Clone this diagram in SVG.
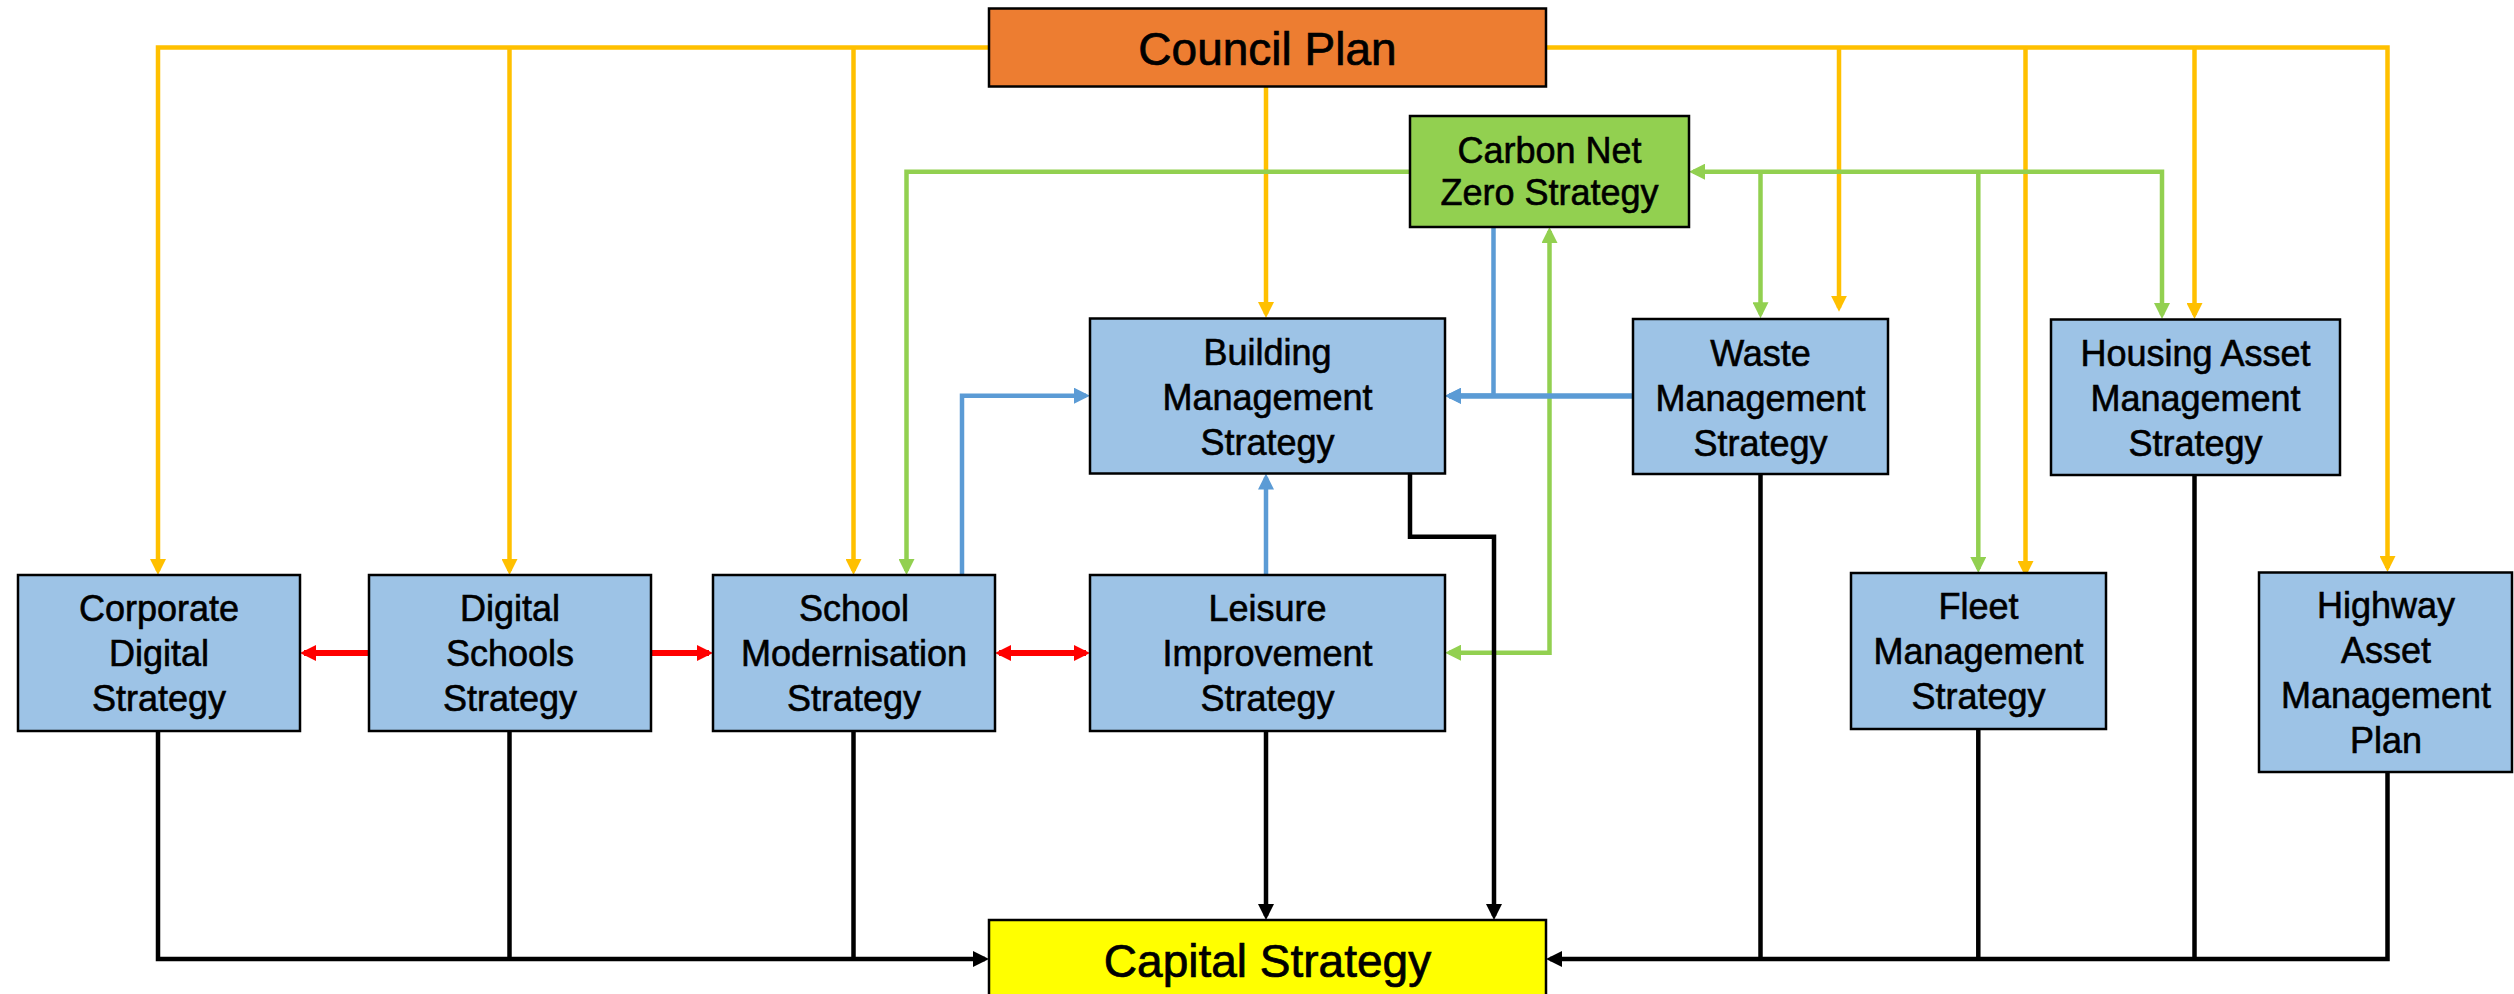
<svg xmlns="http://www.w3.org/2000/svg" width="2514" height="994" viewBox="0 0 2514 994">
<style>
.box{stroke:#000;stroke-width:2.5}
.blue{fill:#9DC3E6}
.t{font-family:"Liberation Sans",Arial,sans-serif;font-size:36px;fill:#000;stroke:#000;stroke-width:0.6;text-anchor:middle}
.tb{font-family:"Liberation Sans",Arial,sans-serif;font-size:46px;fill:#000;stroke:#000;stroke-width:0.7;text-anchor:middle}
.c{fill:none;stroke-width:4.5;stroke-linejoin:miter}
.y{stroke:#FFC000}
.g{stroke:#92D050}
.b{stroke:#5B9BD5}
.k{stroke:#000}
.r{stroke:#FF0000;stroke-width:6}
</style>
<defs>
<marker id="ay" markerUnits="userSpaceOnUse" markerWidth="16" markerHeight="16" refX="12" refY="8" orient="auto-start-reverse"><path d="M0,0 L16,8 L0,16 z" fill="#FFC000"/></marker>
<marker id="ag" markerUnits="userSpaceOnUse" markerWidth="16" markerHeight="16" refX="12" refY="8" orient="auto-start-reverse"><path d="M0,0 L16,8 L0,16 z" fill="#92D050"/></marker>
<marker id="ab" markerUnits="userSpaceOnUse" markerWidth="16" markerHeight="16" refX="12" refY="8" orient="auto-start-reverse"><path d="M0,0 L16,8 L0,16 z" fill="#5B9BD5"/></marker>
<marker id="ak" markerUnits="userSpaceOnUse" markerWidth="16" markerHeight="16" refX="12" refY="8" orient="auto-start-reverse"><path d="M0,0 L16,8 L0,16 z" fill="#000"/></marker>
<marker id="ar" markerUnits="userSpaceOnUse" markerWidth="16" markerHeight="16" refX="12" refY="8" orient="auto-start-reverse"><path d="M0,0 L16,8 L0,16 z" fill="#FF0000"/></marker>
</defs>

<g id="connectors">
  <!-- yellow: Council Plan -->
  <path class="c y" d="M989 47.5 H158 V571" marker-end="url(#ay)"/>
  <path class="c y" d="M509.5 47.5 V571" marker-end="url(#ay)"/>
  <path class="c y" d="M853.5 47.5 V571" marker-end="url(#ay)"/>
  <path class="c y" d="M1546 47.5 H2387.5 V568" marker-end="url(#ay)"/>
  <path class="c y" d="M1839 47.5 V307.7" marker-end="url(#ay)"/>
  <path class="c y" d="M2025.5 47.5 V573" marker-end="url(#ay)"/>
  <path class="c y" d="M2194.5 47.5 V315" marker-end="url(#ay)"/>
  <path class="c y" d="M1266 87 V314" marker-end="url(#ay)"/>
  <!-- green: Carbon Net Zero -->
  <path class="c g" d="M1410 171.7 H906.5 V571" marker-end="url(#ag)"/>
  <path class="c g" d="M1693 171.7 H2162 V315" marker-start="url(#ag)" marker-end="url(#ag)"/>
  <path class="c g" d="M1760.5 171.7 V314.3" marker-end="url(#ag)"/>
  <path class="c g" d="M1978.3 171.7 V569" marker-end="url(#ag)"/>
  <path class="c g" d="M1449 652.7 H1549.5 V231" marker-start="url(#ag)" marker-end="url(#ag)"/>
  <!-- blue -->
  <path class="c b" d="M962 575 V395.7 H1086" marker-end="url(#ab)"/>
  <path class="c b" d="M1493.5 227 V395.7 H1449" marker-end="url(#ab)"/>
  <path class="c b" style="stroke-width:5.5" d="M1633 396 H1449" marker-end="url(#ab)"/>
  <path class="c b" d="M1266 575 V477.5" marker-end="url(#ab)"/>
  <!-- black: to Capital Strategy -->
  <path class="c k" d="M158 731 V959 H985" marker-end="url(#ak)"/>
  <path class="c k" d="M509.5 731 V959"/>
  <path class="c k" d="M853.5 731 V959"/>
  <path class="c k" d="M1266 731 V916" marker-end="url(#ak)"/>
  <path class="c k" d="M1410 473 V536.7 H1494 V916" marker-end="url(#ak)"/>
  <path class="c k" d="M2387.5 772 V959 H1550" marker-end="url(#ak)"/>
  <path class="c k" d="M1760.5 474 V959"/>
  <path class="c k" d="M1978.3 729 V959"/>
  <path class="c k" d="M2194.5 475 V959"/>
  <!-- red -->
  <path class="c r" d="M369 653 H304" marker-end="url(#ar)"/>
  <path class="c r" d="M651 653 H709" marker-end="url(#ar)"/>
  <path class="c r" d="M999 653 H1086" marker-start="url(#ar)" marker-end="url(#ar)"/>
</g>

<g id="council-plan">
  <rect class="box" x="989" y="8.5" width="557" height="78" fill="#ED7D31"/>
  <text class="tb" x="1267.5" y="65">Council Plan</text>
</g>
<g id="carbon-net-zero">
  <rect class="box" x="1410" y="116" width="279" height="111" fill="#92D050"/>
  <text class="t" x="1549.5" y="163.3">Carbon Net</text>
  <text class="t" x="1549.5" y="205">Zero Strategy</text>
</g>
<g id="building-management">
  <rect class="box blue" x="1090" y="318.5" width="355" height="155"/>
  <text class="t" x="1267.5" y="365">Building</text>
  <text class="t" x="1267.5" y="410">Management</text>
  <text class="t" x="1267.5" y="455">Strategy</text>
</g>
<g id="waste-management">
  <rect class="box blue" x="1633" y="319" width="255" height="155"/>
  <text class="t" x="1760.5" y="365.5">Waste</text>
  <text class="t" x="1760.5" y="410.5">Management</text>
  <text class="t" x="1760.5" y="455.5">Strategy</text>
</g>
<g id="housing-asset">
  <rect class="box blue" x="2051" y="319.5" width="289" height="155.5"/>
  <text class="t" x="2195.5" y="366">Housing Asset</text>
  <text class="t" x="2195.5" y="411">Management</text>
  <text class="t" x="2195.5" y="456">Strategy</text>
</g>
<g id="corporate-digital">
  <rect class="box blue" x="18" y="575" width="282" height="156"/>
  <text class="t" x="159" y="621">Corporate</text>
  <text class="t" x="159" y="666">Digital</text>
  <text class="t" x="159" y="711">Strategy</text>
</g>
<g id="digital-schools">
  <rect class="box blue" x="369" y="575" width="282" height="156"/>
  <text class="t" x="510" y="621">Digital</text>
  <text class="t" x="510" y="666">Schools</text>
  <text class="t" x="510" y="711">Strategy</text>
</g>
<g id="school-modernisation">
  <rect class="box blue" x="713" y="575" width="282" height="156"/>
  <text class="t" x="854" y="621">School</text>
  <text class="t" x="854" y="666">Modernisation</text>
  <text class="t" x="854" y="711">Strategy</text>
</g>
<g id="leisure-improvement">
  <rect class="box blue" x="1090" y="575" width="355" height="156"/>
  <text class="t" x="1267.5" y="621">Leisure</text>
  <text class="t" x="1267.5" y="666">Improvement</text>
  <text class="t" x="1267.5" y="711">Strategy</text>
</g>
<g id="fleet-management">
  <rect class="box blue" x="1851" y="573" width="255" height="156"/>
  <text class="t" x="1978.5" y="619">Fleet</text>
  <text class="t" x="1978.5" y="664">Management</text>
  <text class="t" x="1978.5" y="709">Strategy</text>
</g>
<g id="highway-asset">
  <rect class="box blue" x="2259" y="572.5" width="253" height="199.5"/>
  <text class="t" x="2386" y="618.3">Highway</text>
  <text class="t" x="2386" y="663.3">Asset</text>
  <text class="t" x="2386" y="708.3">Management</text>
  <text class="t" x="2386" y="753.3">Plan</text>
</g>
<g id="capital-strategy">
  <rect class="box" x="989" y="920" width="557" height="80" fill="#FFFF00"/>
  <text class="tb" x="1267.5" y="977">Capital Strategy</text>
</g>
</svg>
